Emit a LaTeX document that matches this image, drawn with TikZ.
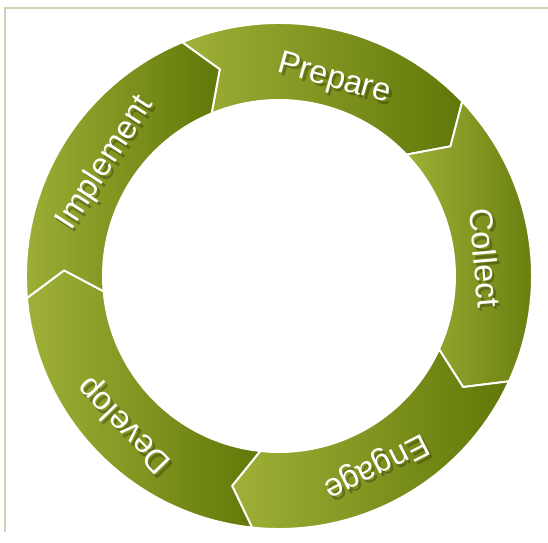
\documentclass[tikz,border=0pt]{standalone}
\usepackage{fontspec}
\setmainfont{Liberation Sans}
\definecolor{olivelight}{RGB}{160,176,56}
\definecolor{olivedark}{RGB}{96,120,8}
\definecolor{framegreen}{RGB}{204,214,178}

\begin{document}
\begin{tikzpicture}[x=0.02cm,y=0.02cm,
    segment/.style={left color=olivelight,right color=olivedark,draw=white,line width=1.1pt,line join=round},
    lbl/.style={text=white,font=\fontsize{18.5}{21}\selectfont,inner sep=0pt},
    lblshadow/.style={lbl,text=black!80!olivedark,text opacity=.3,xshift=1.6pt,yshift=-2pt}]
	%\draw [help lines] (-279,-267) grid[step=50] (269,276);
	\useasboundingbox (-279,-267) rectangle (269,276);
	\draw [framegreen,line width=1pt] (-274,-256) -- (-274,268) -- (269,268);

	% ring, five arrow shaped parts, running clockwise
	\shade [segment] (112.5:253) arc[start angle=112.5,end angle=43.6,radius=253] -- (37.1:215) -- (43.6:176) arc[start angle=43.6,end angle=112.5,radius=176] -- (106:215) -- cycle;
	\shade [segment] (43.6:253) arc[start angle=43.6,end angle=-24.6,radius=253] -- (-31.1:215) -- (-24.6:176) arc[start angle=-24.6,end angle=43.6,radius=176] -- (37.1:215) -- cycle;
	\shade [segment] (-24.6:253) arc[start angle=-24.6,end angle=-96.1,radius=253] -- (-102.6:215) -- (-96.1:176) arc[start angle=-96.1,end angle=-24.6,radius=176] -- (-31.1:215) -- cycle;
	\shade [segment] (-96.1:253) arc[start angle=-96.1,end angle=-175,radius=253] -- (-181.5:215) -- (-175:176) arc[start angle=-175,end angle=-96.1,radius=176] -- (-102.6:215) -- cycle;
	\shade [segment] (185:253) arc[start angle=185,end angle=112.5,radius=253] -- (106:215) -- (112.5:176) arc[start angle=112.5,end angle=185,radius=176] -- (178.5:215) -- cycle;

	% labels with a soft shadow
	\node [lblshadow,rotate=-15.7] (prepare-shadow) at (74.3:204) {Prepare};
	\node [lbl,rotate=-15.7] (prepare) at (74.3:204) {Prepare};
	\node [lblshadow,rotate=-85] (collect-shadow) at (5:207) {Collect};
	\node [lbl,rotate=-85] (collect) at (5:207) {Collect};
	\node [lblshadow,rotate=-152.9] (engage-shadow) at (-62.9:213) {Engage};
	\node [lbl,rotate=-152.9] (engage) at (-62.9:213) {Engage};
	\node [lblshadow,rotate=134] (develop-shadow) at (-136:214) {Develop};
	\node [lbl,rotate=134] (develop) at (-136:214) {Develop};
	\node [lblshadow,rotate=57] (implement-shadow) at (147:207) {Implement};
	\node [lbl,rotate=57] (implement) at (147:207) {Implement};
\end{tikzpicture}
\end{document}
